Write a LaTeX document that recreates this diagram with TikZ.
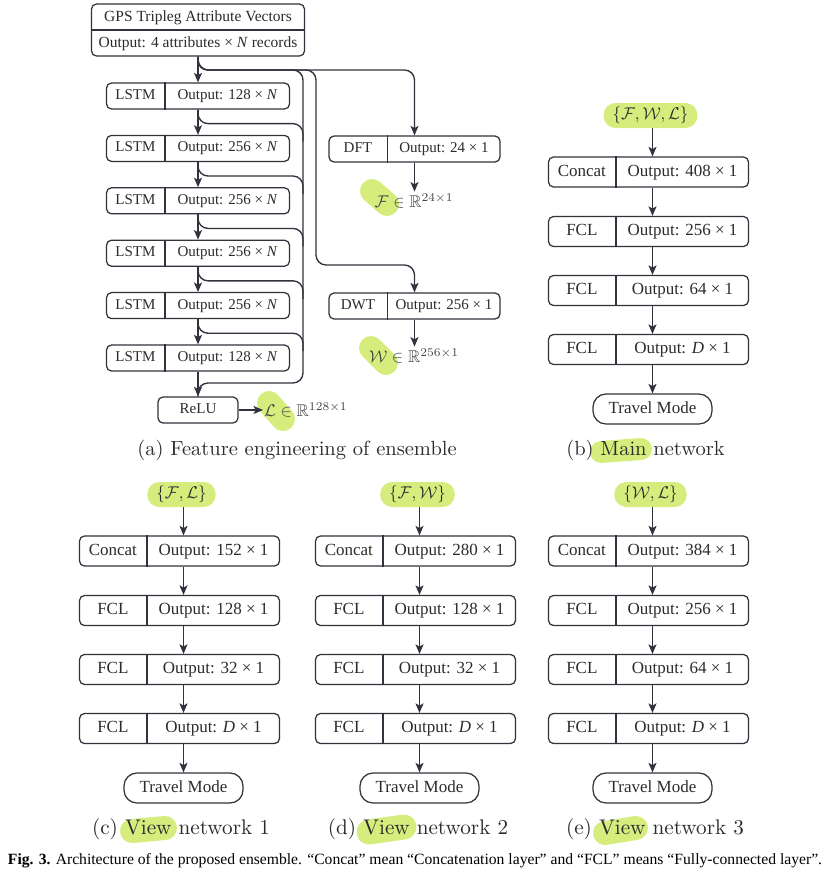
\documentclass[tikz,border=0pt]{standalone}
\usepackage{fontspec}
\usepackage{amssymb}
\usepackage{graphicx}
\usetikzlibrary{arrows.meta,calc}
\newfontfamily\boxfont{Liberation Serif}

\definecolor{ink}{HTML}{30333B}
\definecolor{txt}{HTML}{2B2B2B}
\definecolor{mgray}{HTML}{454545}
\definecolor{hl}{RGB}{214,237,125}

\tikzset{
  wire/.style={draw=ink, line width=1.35pt, rounded corners=10pt},
  arr/.style={wire, -{Stealth[length=9.5pt,width=8pt,inset=2.2pt]}},
  layer/.style={draw=ink, line width=1.25pt, rounded corners=5pt, inner sep=0pt},
  travel/.style={draw=ink, line width=1.25pt, rounded corners=13pt, minimum width=119pt, minimum height=30pt},
  smallt/.style={font=\boxfont\fontsize{15}{17}\selectfont, text=txt, text height=10pt, text depth=3pt, inner sep=0pt},
  bigt/.style={font=\boxfont\fontsize{17}{20}\selectfont, text=txt, text height=11.5pt, text depth=3.5pt, inner sep=0pt},
  mlab/.style={text=mgray, inner sep=2pt},
  pill/.style={fill=hl, rounded corners=12pt, minimum height=25pt, inner xsep=9pt, inner ysep=0pt, text=txt},
  captxt/.style={text=txt, inner sep=0pt},
  marker/.style={draw=hl, line cap=round},
}

% a layer box split into a name cell and an output cell
\newcommand{\layerbox}[8]{%
  \node[layer, minimum width=#4pt, minimum height=#5pt] (#1) at (#2,#3) {};
  \draw[ink, line width=1.25pt] ([xshift=#6pt]#1.north west) -- ([xshift=#6pt]#1.south west);
  \node[#7] (#1-l) at ($(#1.north west)!0.5!([xshift=#6pt]#1.south west)$) {#8};
}

\begin{document}
\begin{tikzpicture}[x=1pt, y=-1pt]
\useasboundingbox (0,0) rectangle (830,876);

% ---------- highlighter strokes (behind everything) ----------
\draw[marker, line width=24pt] (372,191) -- (387,204);
\draw[marker, line width=24pt] (371,348) -- (386,363);
\draw[marker, line width=24pt] (269,403) -- (283,419);
\draw[marker, line width=22pt] (601,452) -- (641,449);
\draw[marker, line width=24pt] (132,831) -- (165,828);
\draw[marker, line width=25pt] (369,832) -- (404,827);
\draw[marker, line width=24pt] (605,833) -- (636,828);

% ---------- (a) feature engineering ----------
\node[layer, minimum width=213pt, minimum height=52pt] (gps) at (198,30) {};
\draw[ink, line width=1.25pt] (gps.west) -- (gps.east);
\node[smallt, font=\boxfont\fontsize{15.5}{18}\selectfont] (gps-t) at (198,17.5) {GPS Tripleg Attribute Vectors};
\node[smallt, font=\boxfont\fontsize{15.5}{18}\selectfont] (gps-b) at (198,43.5) {Output: 4 attributes × \textit{N} records};

\foreach \i/\y/\o in {1/96/128,2/148.4/256,3/200.8/256,4/253.2/256,5/305.6/256,6/358/128}{
  \layerbox{lstm\i}{198}{\y}{183}{26}{59}{smallt}{LSTM}
  \node[smallt] (lstm\i-r) at ($([xshift=59pt]lstm\i.north west)!0.5!(lstm\i.south east)$) {Output: \o\ × \textit{N}};
}

\layerbox{dft}{414.5}{149}{171}{26}{59}{smallt}{DFT}
\node[smallt] (dft-r) at ($([xshift=59pt]dft.north west)!0.5!(dft.south east)$) {Output: 24 × 1};
\layerbox{dwt}{414.5}{306}{171}{26}{59}{smallt}{DWT}
\node[smallt] (dwt-r) at ($([xshift=59pt]dwt.north west)!0.5!(dwt.south east)$) {Output: 256 × 1};

\node[layer, smallt, minimum width=80pt, minimum height=26pt] (relu) at (198,410) {ReLU};

\node[mlab] (flab) at (414,201) {\scalebox{1.7}{$\mathcal{F}\in\mathbb{R}^{24\times1}$}};
\node[mlab] (wlab) at (414,356) {\scalebox{1.7}{$\mathcal{W}\in\mathbb{R}^{256\times1}$}};
\node[mlab, anchor=west, inner sep=1pt] (llab) at (263,410) {\scalebox{1.7}{$\mathcal{L}\in\mathbb{R}^{128\times1}$}};

\coordinate (busA) at (303,70);
\coordinate (busB) at (303,383);
\coordinate (tapA) at (316,70);
\coordinate (tapB) at (316,265);
\coordinate (bus) at (303,0);

% skip connections collected on the bus
\draw[wire] (gps.south) |- (busA) -- (busB) -| (relu.north);
\foreach \i in {1,...,5}{
  \draw[wire] (lstm\i.south) |- ($(lstm\i.south -| bus)+(0,14)$) -- ++(0,18);
}
\draw[arr] (gps.south) |- (busA) -| (dft.north);
\draw[arr] (gps.south) |- (tapA) -- (tapB) -| (dwt.north);

% main LSTM chain
\draw[arr] (gps.south) -- (lstm1.north);
\foreach \i/\j in {1/2,2/3,3/4,4/5,5/6}{
  \draw[arr] (lstm\i.south) -- (lstm\j.north);
}
\draw[arr] (lstm6.south) -- (relu.north);
\draw[arr] (dft.south) -- (dft.south |- flab.north);
\draw[arr] (dwt.south) -- (dwt.south |- wlab.north);
\draw[arr] (relu.east) -- (llab.west);

\node[captxt] (capa) at (297,450) {\scalebox{2.05}{(a) Feature engineering of ensemble}};

% ---------- (b)-(e) classification networks ----------
\foreach \p/\bx/\ax/\cx/\yo/\cs/\pl/\oa/\ob/\oc/\ct in {
  b/648.5/652.5/645.5/0/2.05/{\{\mathcal{F},\mathcal{W},\mathcal{L}\}}/408/256/64/{(b) Main network},
  c/179.5/183.5/181/379/2.12/{\{\mathcal{F},\mathcal{L}\}}/152/128/32/{(c) View network 1},
  d/415.5/419.5/418/379/2.12/{\{\mathcal{F},\mathcal{W}\}}/280/128/32/{(d) View network 2},
  e/648.5/652.5/655/379/2.12/{\{\mathcal{W},\mathcal{L}\}}/384/256/64/{(e) View network 3}}{
  \node[travel, bigt, minimum width=119pt, minimum height=30pt] (\p-t) at (\ax,409+\yo) {Travel Mode};
  \node[pill] (\p-in) at (\ax-2,115.5+\yo) {\scalebox{1.7}{$\pl$}};
  \layerbox{\p-1}{\bx}{172+\yo}{200}{30}{68}{bigt}{Concat}
  \node[bigt] (\p-1-r) at ($([xshift=68pt]\p-1.north west)!0.5!(\p-1.south east)$) {Output: \oa\ × 1};
  \layerbox{\p-2}{\bx}{231.5+\yo}{200}{30}{68}{bigt}{FCL}
  \node[bigt] (\p-2-r) at ($([xshift=68pt]\p-2.north west)!0.5!(\p-2.south east)$) {Output: \ob\ × 1};
  \layerbox{\p-3}{\bx}{290.5+\yo}{200}{30}{68}{bigt}{FCL}
  \node[bigt] (\p-3-r) at ($([xshift=68pt]\p-3.north west)!0.5!(\p-3.south east)$) {Output: \oc\ × 1};
  \layerbox{\p-4}{\bx}{349.5+\yo}{200}{30}{68}{bigt}{FCL}
  \node[bigt] (\p-4-r) at ($([xshift=68pt]\p-4.north west)!0.5!(\p-4.south east)$) {Output: \textit{D} × 1};
  \draw[arr] (\p-in.south -| \p-t) -- (\p-1.north -| \p-t);
  \draw[arr] (\p-1.south -| \p-t) -- (\p-2.north -| \p-t);
  \draw[arr] (\p-2.south -| \p-t) -- (\p-3.north -| \p-t);
  \draw[arr] (\p-3.south -| \p-t) -- (\p-4.north -| \p-t);
  \draw[arr] (\p-4.south -| \p-t) -- (\p-t.north);
  \node[captxt] (\p-cap) at (\cx,450+\yo) {\scalebox{\cs}{\ct}};
}

% ---------- figure caption ----------
\node[inner sep=0pt, text=black] (figcap) at (415,861) {\resizebox{814pt}{!}{\boxfont\fontsize{14}{16}\selectfont\textbf{Fig. 3.} Architecture of the proposed ensemble. “Concat” mean “Concatenation layer” and “FCL” means “Fully-connected layer”.}};
\end{tikzpicture}
\end{document}
